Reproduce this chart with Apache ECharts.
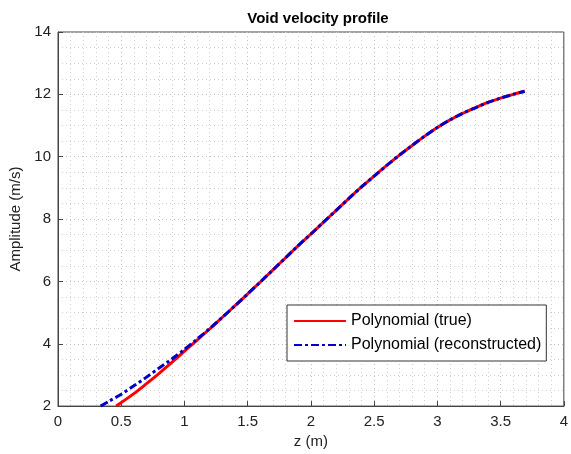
<!DOCTYPE html>
<html>
<head>
<meta charset="utf-8">
<script src="https://cdn.jsdelivr.net/npm/echarts@6/dist/echarts.min.js"></script>
<style>
html,body{margin:0;padding:0;background:#fff;}
#c{width:571px;height:454px;}
</style>
</head>
<body>
<div id="c"></div>
<script>
var chartTitle = "Void velocity profile";
var xName = "z (m)";
var yName = "Amplitude (m/s)";
var seriesNames = ["Polynomial (true)", "Polynomial (reconstructed)"];

var zTrue = [0.46, 0.6, 0.7, 0.8, 0.9, 1.0, 1.1, 1.2, 1.3, 1.4, 1.5, 1.6, 1.7, 1.8, 1.9, 2.0,
             2.1, 2.2, 2.3, 2.4, 2.5, 2.6, 2.7, 2.8, 2.9, 3.0, 3.1, 3.2, 3.3, 3.4, 3.5, 3.6, 3.69];
var vTrue = [2.0, 2.4, 2.72, 3.05, 3.4, 3.76, 4.12, 4.48, 4.85, 5.22, 5.6, 5.98, 6.37, 6.76, 7.15, 7.52,
             7.9, 8.28, 8.66, 9.03, 9.38, 9.72, 10.05, 10.36, 10.66, 10.94, 11.18, 11.39, 11.57, 11.74, 11.88, 12.0, 12.1];

var zRec = [0.337, 0.4, 0.5, 0.6, 0.7, 0.8, 0.9, 1.0, 1.1, 1.2, 1.3, 1.4, 1.5, 1.6, 1.7, 1.8, 1.9, 2.0,
            2.1, 2.2, 2.3, 2.4, 2.5, 2.6, 2.7, 2.8, 2.9, 3.0, 3.1, 3.2, 3.3, 3.4, 3.5, 3.6, 3.69];
var vRec = [2.0, 2.15, 2.38, 2.65, 2.93, 3.22, 3.51, 3.82, 4.15, 4.49, 4.85, 5.22, 5.6, 5.98, 6.37, 6.76, 7.15, 7.52,
            7.9, 8.28, 8.66, 9.03, 9.38, 9.72, 10.05, 10.36, 10.66, 10.94, 11.18, 11.39, 11.57, 11.74, 11.88, 12.0, 12.1];

function pairs(xs, ys){ return xs.map(function(x,i){ return [x, ys[i]]; }); }

var font = "Liberation Sans, Arial, sans-serif";
var chart = echarts.init(document.getElementById('c'));
chart.setOption({
  animation: false,
  backgroundColor: '#fff',
  title: {
    text: chartTitle, left: 313, top: 6, textAlign: 'center',
    textStyle: {fontFamily: font, fontSize: 15, fontWeight: 'bold', color: '#000'}
  },
  grid: {left: 58, right: 3, top: 32, bottom: 46, show: true, borderColor: '#444', borderWidth: 1},
  legend: {
    orient: 'vertical', left: 287, top: 305,
    backgroundColor: '#fff', borderColor: '#333', borderWidth: 1,
    padding: [8, 5, 8, 6], itemGap: 8, itemWidth: 52, itemHeight: 16,
    textStyle: {fontFamily: font, fontSize: 16, color: '#000'},
    itemStyle: {opacity: 0},
    data: seriesNames
  },
  xAxis: {
    type: 'value', min: 0, max: 4, interval: 0.5,
    name: xName, nameLocation: 'middle', nameGap: 25,
    nameTextStyle: {fontFamily: font, fontSize: 15, color: '#222'},
    axisLine: {show: true, lineStyle: {color: '#444'}},
    axisTick: {show: true, inside: true, length: 5, lineStyle: {color: '#444'}},
    minorTick: {show: false, splitNumber: 5},
    axisLabel: {fontFamily: font, fontSize: 15, color: '#222', margin: 8},
    splitLine: {show: true, lineStyle: {color: '#c0c0c0', type: [1, 3], width: 1}},
    minorSplitLine: {show: true, lineStyle: {color: '#d0d0d0', type: [1, 3], width: 1}}
  },
  yAxis: {
    type: 'value', min: 2, max: 14, interval: 2,
    name: yName, nameLocation: 'middle', nameGap: 33,
    nameTextStyle: {fontFamily: font, fontSize: 15, color: '#222'},
    axisLine: {show: true, lineStyle: {color: '#444'}},
    axisTick: {show: true, inside: true, length: 5, lineStyle: {color: '#444'}},
    minorTick: {show: false, splitNumber: 4},
    axisLabel: {fontFamily: font, fontSize: 15, color: '#222', margin: 7},
    splitLine: {show: true, lineStyle: {color: '#c0c0c0', type: [1, 3], width: 1}},
    minorSplitLine: {show: true, lineStyle: {color: '#d0d0d0', type: [1, 3], width: 1}}
  },
  series: [
    {
      name: seriesNames[0], type: 'line', data: pairs(zTrue, vTrue),
      smooth: 0.3, showSymbol: false, symbol: 'none', z: 2,
      lineStyle: {color: '#ff0000', width: 3, type: 'solid'},
      itemStyle: {color: '#ff0000'}
    },
    {
      name: seriesNames[1], type: 'line', data: pairs(zRec, vRec),
      smooth: 0.3, showSymbol: false, symbol: 'none', z: 3,
      lineStyle: {color: '#0000cc', width: 3, type: [8, 3, 3, 3]},
      itemStyle: {color: '#0000cc'}
    }
  ]
});
</script>
</body>
</html>
